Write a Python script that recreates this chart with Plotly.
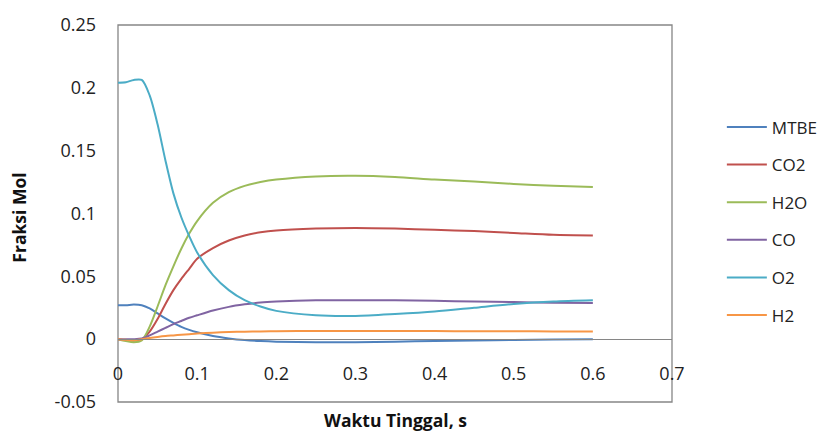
import plotly.graph_objects as go

# Residence time (s) and mole fractions of each species
waktu = [0.0, 0.01, 0.02, 0.03, 0.04, 0.05, 0.06, 0.07, 0.08, 0.09, 0.10,
         0.12, 0.14, 0.16, 0.18, 0.20, 0.25, 0.30, 0.35, 0.40, 0.45, 0.50, 0.55, 0.60]

mtbe = [0.027, 0.027, 0.0275, 0.027, 0.0245, 0.0205, 0.0165, 0.013, 0.0098, 0.0074, 0.0055,
        0.0025, 0.0006, -0.0007, -0.0015, -0.002, -0.0025, -0.0025, -0.002, -0.0015, -0.001, -0.0006, -0.0002, 0.0]
co2 = [0.0, -0.0008, -0.0012, 0.0, 0.006, 0.016, 0.028, 0.039, 0.048, 0.056, 0.064,
       0.0725, 0.0785, 0.0825, 0.085, 0.0865, 0.088, 0.0885, 0.088, 0.087, 0.086, 0.0845, 0.083, 0.0825]
h2o = [0.0, -0.0015, -0.0025, -0.001, 0.010, 0.026, 0.043, 0.058, 0.072, 0.084, 0.094,
       0.1085, 0.1170, 0.1220, 0.1250, 0.127, 0.1295, 0.130, 0.129, 0.127, 0.1255, 0.1235, 0.122, 0.121]
co = [0.0, 0.0, 0.0, 0.0005, 0.003, 0.006, 0.009, 0.012, 0.0145, 0.017, 0.019,
      0.0228, 0.0257, 0.0277, 0.0292, 0.030, 0.031, 0.031, 0.031, 0.0305, 0.030, 0.0295, 0.029, 0.0288]
o2 = [0.204, 0.2045, 0.2063, 0.2063, 0.194, 0.171, 0.142, 0.116, 0.097, 0.082, 0.069,
      0.051, 0.039, 0.031, 0.026, 0.0225, 0.019, 0.0185, 0.020, 0.022, 0.025, 0.028, 0.030, 0.031]
h2 = [0.0, -0.0005, -0.0008, 0.0, 0.001, 0.0018, 0.0025, 0.003, 0.0035, 0.004, 0.0045,
      0.0052, 0.0057, 0.006, 0.0062, 0.0063, 0.0065, 0.0065, 0.0065, 0.0064, 0.0063, 0.0063, 0.0062, 0.0062]

nama_seri = ["MTBE", "CO2", "H2O", "CO", "O2", "H2"]
nilai_seri = [mtbe, co2, h2o, co, o2, h2]
warna_seri = ["#4F81BD", "#C0504D", "#9BBB59", "#8064A2", "#4BACC6", "#F79646"]

y_ticks = [-0.05, 0.0, 0.05, 0.10, 0.15, 0.20, 0.25]
y_ticktext = ["-0.05", "0", "0.05", "0.1", "0.15", "0.2", "0.25"]
x_ticks = [0.0, 0.1, 0.2, 0.3, 0.4, 0.5, 0.6, 0.7]
x_ticktext = ["0", "0.1", "0.2", "0.3", "0.4", "0.5", "0.6", "0.7"]

y_min, y_max = -0.05, 0.25
x_min, x_max = 0.0, 0.7

FONT = "Open Sans"
GRAY = "#868686"

fig = go.Figure()
for nama, nilai, warna in zip(nama_seri, nilai_seri, warna_seri):
    fig.add_trace(go.Scatter(
        x=waktu, y=nilai, name=nama, mode="lines",
        line=dict(color=warna, width=2, shape="spline", smoothing=0.8),
        legendgroup=nama,
    ))

# the x axis sits on y = 0, inside the plot box
zero_pos = (0 - y_min) / (y_max - y_min)

fig.update_layout(
    width=835, height=435,
    margin=dict(l=118, r=157, t=17, b=33),
    paper_bgcolor="white", plot_bgcolor="white",
    font=dict(family=FONT, size=16, color="#000000"),
    showlegend=True,
    legend=dict(
        x=1.09, y=0.776, xanchor="left", yanchor="top",
        font=dict(family=FONT, size=17, color="#222222"),
        tracegroupgap=12.5, itemwidth=40,
        bgcolor="rgba(0,0,0,0)",
    ),
    xaxis=dict(
        range=[x_min, x_max], tickvals=x_ticks, ticktext=x_ticktext,
        anchor="free", position=zero_pos,
        showline=True, linecolor=GRAY, linewidth=1,
        showgrid=False, zeroline=False, ticks="",
        ticklabelstandoff=18,
        tickfont=dict(family=FONT, size=18, color="#222222"),
    ),
    yaxis=dict(
        range=[y_min, y_max], tickvals=y_ticks, ticktext=y_ticktext,
        showline=False, showgrid=False, zeroline=False, ticks="",
        ticklabelstandoff=21,
        tickfont=dict(family=FONT, size=18, color="#222222"),
    ),
    shapes=[dict(
        type="rect", xref="x domain", yref="y domain",
        x0=0, x1=1, y0=0, y1=1,
        line=dict(color=GRAY, width=1.3), layer="below",
    )],
    annotations=[
        dict(text="<b>Fraksi Mol</b>", xref="paper", yref="paper",
             x=-0.178, y=0.49, textangle=-90, showarrow=False,
             xanchor="center", yanchor="middle",
             font=dict(family=FONT, size=17.5, color="#111111")),
        dict(text="<b>Waktu Tinggal, s</b>", xref="paper", yref="paper",
             x=0.5, y=-0.047, showarrow=False,
             xanchor="center", yanchor="middle",
             font=dict(family=FONT, size=17.5, color="#111111")),
    ],
)

fig.write_html("out.html")
